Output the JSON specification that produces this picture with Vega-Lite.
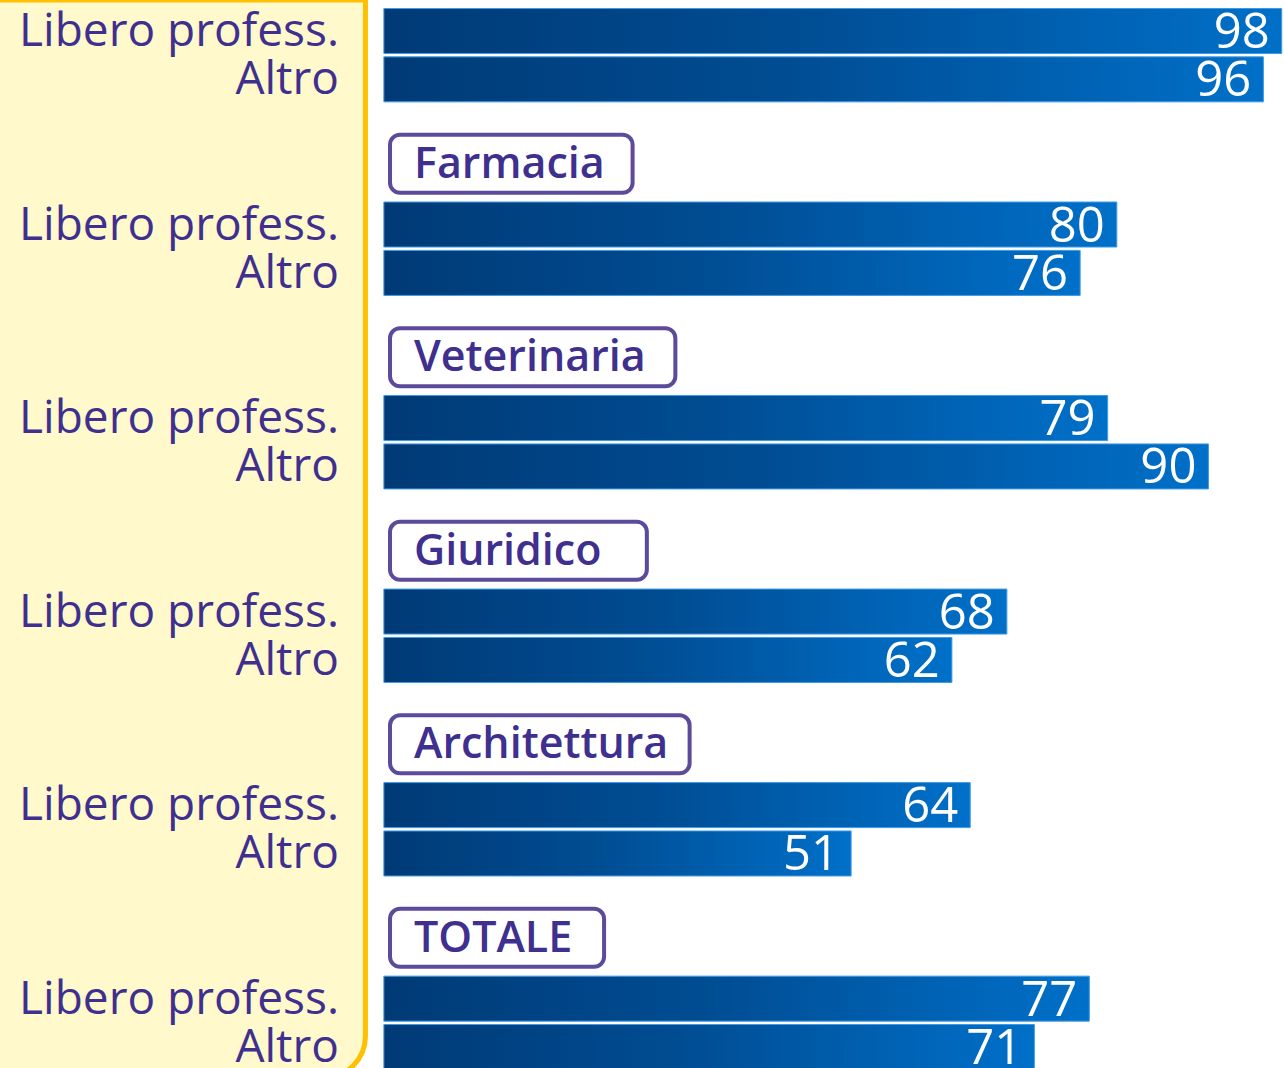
{
  "$schema": "https://vega.github.io/schema/vega-lite/v6.json",
  "width": 1284,
  "height": 1078,
  "padding": 0,
  "autosize": {"type": "none"},
  "background": "white",
  "config": {"view": {"stroke": null}},
  "data": {
    "values": [
      {"row": "1L", "tipo": "Libero profess.", "value": 98},
      {"row": "1A", "tipo": "Altro", "value": 96},
      {"row": "2H", "name": "Farmacia"},
      {"row": "2L", "tipo": "Libero profess.", "value": 80},
      {"row": "2A", "tipo": "Altro", "value": 76},
      {"row": "3H", "name": "Veterinaria"},
      {"row": "3L", "tipo": "Libero profess.", "value": 79},
      {"row": "3A", "tipo": "Altro", "value": 90},
      {"row": "4H", "name": "Giuridico"},
      {"row": "4L", "tipo": "Libero profess.", "value": 68},
      {"row": "4A", "tipo": "Altro", "value": 62},
      {"row": "5H", "name": "Architettura"},
      {"row": "5L", "tipo": "Libero profess.", "value": 64},
      {"row": "5A", "tipo": "Altro", "value": 51},
      {"row": "6H", "name": "TOTALE"},
      {"row": "6L", "tipo": "Libero profess.", "value": 77},
      {"row": "6A", "tipo": "Altro", "value": 71}
    ]
  },
  "layer": [
    {
      "transform": [
        {"filter": "datum.row === '1L'"},
        {"calculate": "-60", "as": "panelStart"},
        {"calculate": "-2.01", "as": "panelEnd"}
      ],
      "mark": {"type": "rect", "fill": "#fff9cc", "stroke": "#ffc000", "strokeWidth": 5, "cornerRadiusBottomRight": 42, "clip": false},
      "encoding": {
        "x": {"field": "panelStart", "type": "quantitative", "axis": null},
        "x2": {"field": "panelEnd"}
      }
    },
    {
      "transform": [{"filter": "isValid(datum.value)"}],
      "mark": {
        "type": "bar",
        "height": 45,
        "stroke": "#3d9ae6",
        "strokeWidth": 1,
        "fill": {"gradient": "linear", "x1": 0, "y1": 0, "x2": 1, "y2": 0,
          "stops": [{"offset": 0, "color": "#003a76"}, {"offset": 0.45, "color": "#004c92"}, {"offset": 1, "color": "#0070c9"}]}
      },
      "encoding": {
        "x": {"field": "value", "type": "quantitative", "axis": null, "scale": {"domain": [-41.9, 98.25], "nice": false, "zero": false}},
        "y": {"field": "row", "type": "nominal", "axis": null,
          "scale": {"domain": ["1L","1A","1G","2H","2L","2A","2G","3H","3L","3A","3G","4H","4L","4A","4G","5H","5L","5A","5G","6H","6L","6A"], "paddingInner": 0, "paddingOuter": 0.1405}}
      }
    },
    {
      "transform": [{"filter": "isValid(datum.value)"}],
      "mark": {"type": "text", "align": "right", "baseline": "middle", "dx": -12, "dy": 2, "color": "white", "font": "Open Sans", "fontSize": 49},
      "encoding": {
        "x": {"field": "value", "type": "quantitative"},
        "y": {"field": "row", "type": "nominal"},
        "text": {"field": "value", "type": "quantitative"}
      }
    },
    {
      "transform": [{"filter": "isValid(datum.value)"}, {"calculate": "-4.9", "as": "labelX"}],
      "mark": {"type": "text", "align": "right", "baseline": "middle", "dy": 1, "color": "#3f2f8f", "font": "Open Sans", "fontSize": 46},
      "encoding": {
        "x": {"field": "labelX", "type": "quantitative"},
        "y": {"field": "row", "type": "nominal"},
        "text": {"field": "tipo", "type": "nominal"}
      }
    },
    {
      "transform": [
        {"filter": "isValid(datum.name)"},
        {"calculate": "14.7 + 1.556 * length(datum.name)", "as": "boxEnd"},
        {"calculate": "0.67", "as": "boxStart"}
      ],
      "mark": {"type": "bar", "height": 58, "yOffset": -12.4, "fill": "white", "stroke": "#5c4b9b", "strokeWidth": 4, "cornerRadius": 10},
      "encoding": {
        "x": {"field": "boxEnd", "type": "quantitative"},
        "x2": {"field": "boxStart"},
        "y": {"field": "row", "type": "nominal"}
      }
    },
    {
      "transform": [{"filter": "isValid(datum.name)"}, {"calculate": "3.29", "as": "headX"}],
      "mark": {"type": "text", "align": "left", "baseline": "middle", "yOffset": -12.4, "dy": 1, "color": "#3f2f8f", "font": "Open Sans", "fontSize": 43, "fontWeight": 600},
      "encoding": {
        "x": {"field": "headX", "type": "quantitative"},
        "y": {"field": "row", "type": "nominal"},
        "text": {"field": "name", "type": "nominal"}
      }
    }
  ]
}
